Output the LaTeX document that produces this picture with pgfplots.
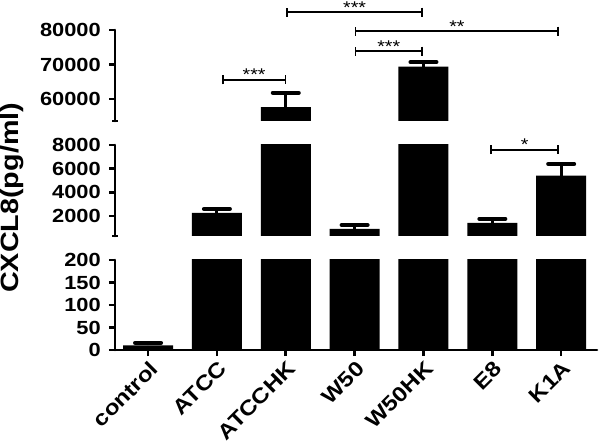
\documentclass[border=0pt]{standalone}
\usepackage{fontspec}
\setmainfont{Liberation Sans}[FakeStretch=1.15]
\usepackage{pgfplots}
\usepackage{pgfplotstable}
\pgfplotsset{compat=1.18}
\usetikzlibrary{arrows.meta}

% x: group index, val: mean CXCL8, err: upper error
\pgfplotstableread{
x val err
0 10 6
1 2250 340
2 57600 4200
3 900 330
4 69400 1300
5 1400 350
6 5400 1000
}\cxcl

\newcommand{\tickfont}{\fontsize{19}{19}\selectfont\bfseries}

\pgfplotsset{
  seg/.style={
    scale only axis, width=482pt,
    xmin=-0.48, xmax=6.52,
    axis y line*=left,
    axis line style={-, line width=2.6pt, line cap=round},
    tick style={line width=2.6pt, black},
    major tick length=6pt, tick align=outside,
    yticklabel style={font=\tickfont, inner sep=2pt, xshift=-6pt},
    /pgf/number format/assume math mode=true,
    scaled y ticks=false,
    ybar, bar width=50pt,
    extra tick style={tick align=center},
  },
  bars/.style={fill=black, draw=none,
    error bars/.cd, y dir=plus, y explicit,
    error bar style={line width=3pt, draw=black, solid},
    error mark options={rotate=90, line width=4pt, mark size=13pt, draw=black, line cap=round}},
}
\tikzset{
  sig/.style={line width=1.8pt, {Bar[width=9pt]}-{Bar[width=9pt]}},
  stars/.style={font=\fontsize{17}{17}\selectfont, anchor=base, inner sep=0pt, yshift=-1pt},
}

\begin{document}
\begin{tikzpicture}
\useasboundingbox (0,0) rectangle (600pt,447pt);

% lower segment 0-200
\begin{axis}[seg, at={(115pt,97pt)}, anchor=south west, height=90pt,
  ymin=0, ymax=200, ytick={0,50,100,150,200},
  restrict y to domain*=-100:1000,
  axis x line*=bottom,
  xtick={0,...,6},
  xticklabels={control,ATCC,ATCCHK,W50,W50HK,E8,K1A},
  xticklabel style={font=\fontsize{21}{21}\selectfont\bfseries, rotate=45, anchor=north east, inner sep=2pt, yshift=-1pt},
  every axis y label/.style={at={(axis description cs:-0.2137,1.69)}, rotate=90, anchor=center},
  ylabel={\fontsize{25}{25}\selectfont\bfseries CXCL8(pg/ml)},
]
\addplot[bars] table[x=x, y=val, y error=err] {\cxcl};
\end{axis}

% middle segment 300-8000
\begin{axis}[seg, at={(115pt,211pt)}, anchor=south west, height=91pt,
  ymin=300, ymax=8000, ytick={2000,4000,6000,8000},
  yticklabels={2000,4000,6000,8000},
  extra y ticks={300}, extra y tick labels={},
  restrict y to domain=300:1000000,
  axis x line=none,
]
\addplot[bars] table[x=x, y=val, y error=err] {\cxcl};
\coordinate (e8) at (axis cs:4.97,7600);
\coordinate (k1a) at (axis cs:5.97,7600);
\end{axis}

% upper segment 53600-80000
\begin{axis}[seg, at={(115pt,326pt)}, anchor=south west, height=91pt,
  ymin=53600, ymax=80000, ytick={60000,70000,80000},
  yticklabels={60000,70000,80000},
  extra y ticks={53600}, extra y tick labels={},
  restrict y to domain=50000:1000000,
  axis x line=none,
]
\addplot[bars] table[x=x, y=val, y error=err] {\cxcl};
\coordinate (s1a) at (axis cs:1.07,65500);
\coordinate (s1b) at (axis cs:2.01,65500);
\coordinate (s2a) at (axis cs:2.01,85200);
\coordinate (s2b) at (axis cs:3.99,85200);
\coordinate (s3a) at (axis cs:3.0,73900);
\coordinate (s3b) at (axis cs:3.99,73900);
\coordinate (s4a) at (axis cs:3.0,79700);
\coordinate (s4b) at (axis cs:5.97,79700);
\end{axis}

\draw[sig] (s1a) -- (s1b) node[midway, stars] {***};
\draw[sig] (s2a) -- (s2b) node[midway, stars] {***};
\draw[sig] (s3a) -- (s3b) node[midway, stars] {***};
\draw[sig] (s4a) -- (s4b) node[midway, stars] {**};
\draw[sig] (e8) -- (k1a) node[midway, stars] {*};
\end{tikzpicture}
\end{document}
